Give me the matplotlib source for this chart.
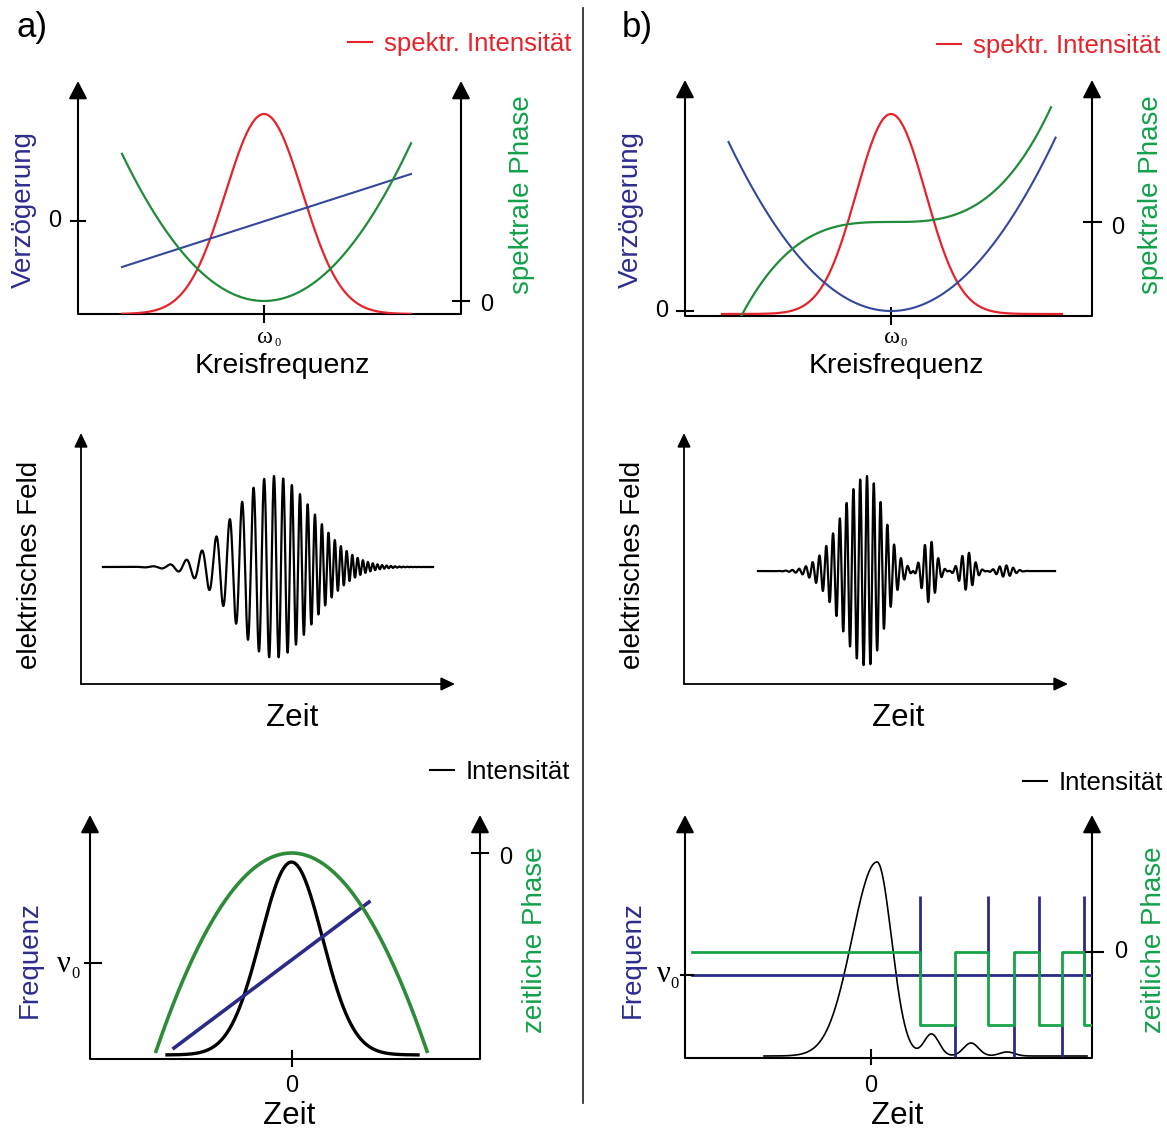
import numpy as np
import matplotlib
matplotlib.use("Agg")
import matplotlib.pyplot as plt
from matplotlib.lines import Line2D

W, H = 1167, 1134
plt.rcParams["font.family"] = ["Liberation Sans", "DejaVu Sans"]
SERIF = ["Liberation Serif", "DejaVu Serif"]

RED = "#E4242B"
GREEN = "#1F8B3B"
BLUE = "#34479B"
NAVY = "#2A2A88"
LABEL_BLUE = "#2E2C8E"
LABEL_GREEN = "#12A14B"
STEP_GREEN = "#17A34A"
BOT_GREEN = "#2E8B3A"

# ---------------- a) quadratic spectral phase ----------------
a_omega = [-1.42, 1.47]              # plotted range of the frequency offset
a_spec_sigma = 0.385                 # width of the spectral intensity
a_delay = [-0.46, 0.47]              # group delay at both ends (linear)
a_phase_poly = [0.73, 0.0, 0.0]      # spectral phase coefficients

a_field_t = [-17.1, 15.9]            # electric field, time range
a_field_sigma = 3.9
a_field_freq_poly = [0.003, 0.075, 1.05]   # instantaneous frequency vs. time

a_int_t = [-12.45, 12.65]            # temporal intensity
a_int_sigma = 3.1
a_freq_t = [-11.75, 7.75]            # instantaneous frequency (linear chirp)
a_freq = [-0.85, 0.61]
a_tphase_t = [-13.55, 13.55]         # temporal phase (parabola)
a_tphase_curv = -0.0108

# ---------------- b) cubic spectral phase ----------------
b_omega = [-1.69, 1.71]
b_spec_sigma = 0.346
b_delay_w = [-1.625, 1.646]
b_delay_curv = 0.64
b_phase_w = [-1.5, 1.6]
b_phase_cubic = 0.28

b_field_t = [-10.9, 18.8]
b_carrier = 1.47
b_sub_centres = [0.0, 6.2, 10.0, 13.8]
b_sub_amps = [1.0, -0.33, 0.2, -0.06]
b_sub_sig_left = [2.5, 0.7, 0.7, 0.8]
b_sub_sig_right = [1.7, 0.7, 0.7, 0.8]

b_int_t = [-10.7, 21.6]
b_int_centres = [0.6, 6.05, 10.0, 13.6]
b_int_peaks = [1.0, 0.113, 0.067, 0.021]
b_int_sig_left = [2.5, 0.75, 0.75, 0.75]
b_int_sig_right = [1.45, 0.75, 0.75, 0.75]

b_line_t = [-17.9, 21.95]            # frequency / phase drawn over this range
b_jumps = [4.85, 8.42, 11.69, 14.25, 16.76, 19.13, 21.28]
b_phase_levels = [0.0, -0.73]
b_spikes = [0.79, -0.82]


def split_gauss(t, c, sl, sr):
    s = np.where(t < c, sl, sr)
    return np.exp(-(t - c) ** 2 / (2 * s ** 2))


fig = plt.figure(figsize=(W / 100, H / 100), dpi=100)


def panel(box, xlim, ylim):
    x0, x1, yb, yt = box
    ax = fig.add_axes([x0 / W, 1 - yb / H, (x1 - x0) / W, (yb - yt) / H])
    ax.set_xlim(*xlim)
    ax.set_ylim(*ylim)
    ax.axis("off")
    ax.patch.set_visible(False)
    return ax


def frame(ax, box, right=False, arrow_x=False, big=True, lw=1.5):
    if big:
        style = "-|>,head_length=0.54,head_width=0.28"
    else:
        style = "-|>,head_length=0.42,head_width=0.2"
    kw = dict(xycoords="axes fraction", textcoords="axes fraction",
              arrowprops=dict(arrowstyle=style, mutation_scale=20, lw=lw,
                              color="k", shrinkA=0, shrinkB=0))
    ax.annotate("", xy=(0, 1), xytext=(0, 0), **kw)
    if right:
        ax.annotate("", xy=(1, 1), xytext=(1, 0), **kw)
    if arrow_x:
        ax.annotate("", xy=(1, 0), xytext=(0, 0), **kw)
    else:
        ax.plot([0, 1], [0, 0], color="k", lw=lw, transform=ax.transAxes,
                clip_on=False, solid_capstyle="butt")


def xtick(ax, box, x, below=8, above=8, lw=1.5):
    hpx = box[2] - box[3]
    ax.plot([x, x], [-below / hpx, above / hpx], color="k", lw=lw,
            transform=ax.get_xaxis_transform(), clip_on=False)


def ytick(ax, box, y, side, left=7, right=7, lw=1.5):
    wpx = box[1] - box[0]
    ax.plot([side - left / wpx, side + right / wpx], [y, y], color="k", lw=lw,
            transform=ax.get_yaxis_transform(), clip_on=False)


def text(x, y, s, size=20, color="k", **kw):
    kw.setdefault("ha", "center")
    kw.setdefault("va", "center")
    fig.text(x / W, 1 - y / H, s, fontsize=size, color=color, **kw)


def greek(x, y, sym, sub_dx, sub_dy, size, sub_size):
    text(x, y, sym, size=size, family=SERIF)
    text(x + sub_dx, y + sub_dy, "0", size=sub_size, family=SERIF)


def legend(ax, x, y, label, color):
    ax.legend(handles=[Line2D([], [], color=color, lw=1.5)], labels=[label],
              loc="center right", bbox_to_anchor=(x / W, 1 - y / H),
              bbox_transform=fig.transFigure, frameon=False, fontsize=18.5,
              labelcolor=color, handlelength=0.95, handletextpad=0.45,
              borderpad=0, borderaxespad=0)


# ======================= a) top: spectral domain =======================
box = (78, 461, 314, 81)
xl = (-1.86, 1.97)
ax_i = panel(box, xl, (0, 1.165))
ax_d = panel(box, xl, (-0.93, 1.40))
ax_p = panel(box, xl, (-0.13, 2.20))
frame(ax_i, box, right=True)
w = np.linspace(a_omega[0], a_omega[1], 500)
ax_d.plot(a_omega, a_delay, color=BLUE, lw=1.5)
ax_p.plot(w, np.polyval(a_phase_poly, w), color=GREEN, lw=1.6)
ax_i.plot(w, np.exp(-w ** 2 / (2 * a_spec_sigma ** 2)), color=RED, lw=1.6)
xtick(ax_i, box, 0)
ytick(ax_d, box, 0, 0)
ytick(ax_p, box, 0, 1, 8, 8)
legend(ax_i, 571, 44, "spektr. Intensität", RED)
text(55, 221, "0", size=17)
text(487, 305, "0", size=17)
greek(265.5, 338, "ω", 12.5, 5.5, 17.5, 9)
text(282, 366, "Kreisfrequenz", size=20.5)
text(24, 209, "Verzögerung", color=LABEL_BLUE, rotation=90)
text(522, 195, "spektrale Phase", color=LABEL_GREEN, rotation=90)
text(16, 27, "a)", size=25, ha="left")

# ======================= b) top: spectral domain =======================
box = (685, 1092, 316, 80)
xl = (-2.06, 2.01)
bx_i = panel(box, xl, (-0.01, 1.17))
bx_d = panel(box, xl, (-0.05, 2.31))
bx_p = panel(box, xl, (-0.94, 1.42))
frame(bx_i, box, right=True)
w = np.linspace(b_omega[0], b_omega[1], 500)
wd = np.linspace(b_delay_w[0], b_delay_w[1], 500)
wp = np.linspace(b_phase_w[0], b_phase_w[1], 500)
bx_d.plot(wd, b_delay_curv * wd ** 2, color=BLUE, lw=1.5)
bx_p.plot(wp, b_phase_cubic * wp ** 3, color=GREEN, lw=1.6)
bx_i.plot(w, np.exp(-w ** 2 / (2 * b_spec_sigma ** 2)), color=RED, lw=1.6)
xtick(bx_i, box, 0)
ytick(bx_d, box, 0, 0, 8, 8)
ytick(bx_p, box, 0, 1, 8, 9)
legend(bx_i, 1160, 46, "spektr. Intensität", RED)
text(662, 311, "0", size=17)
text(1118, 228, "0", size=17)
greek(892, 338, "ω", 12, 5.5, 17.5, 9)
text(896, 366, "Kreisfrequenz", size=20.5)
text(631, 209, "Verzögerung", color=LABEL_BLUE, rotation=90)
text(1151, 195, "spektrale Phase", color=LABEL_GREEN, rotation=90)
text(622, 27, "b)", size=25, ha="left")

# ======================= a) middle: electric field =======================
box = (81, 455, 684, 433)
ax_e = panel(box, (-19.3, 18.1), (-1.286, 1.473))
frame(ax_e, box, arrow_x=True, big=False, lw=1.3)
t = np.linspace(a_field_t[0], a_field_t[1], 6000)
phase = 2 * np.pi * np.polyval(np.polyint(a_field_freq_poly), t)
ax_e.plot(t, np.exp(-t ** 2 / (2 * a_field_sigma ** 2)) * np.cos(phase),
          color="k", lw=1.6)
text(30, 565, "elektrisches Feld", rotation=90)
text(292, 718, "Zeit", size=22.5)

# ======================= b) middle: electric field =======================
box = (684, 1068, 684, 433)
bx_e = panel(box, (-18.3, 20.1), (-1.189, 1.453))
frame(bx_e, box, arrow_x=True, big=False, lw=1.3)
t = np.linspace(b_field_t[0], b_field_t[1], 6000)
env = sum(a * split_gauss(t, c, sl, sr) for c, a, sl, sr in
          zip(b_sub_centres, b_sub_amps, b_sub_sig_left, b_sub_sig_right))
bx_e.plot(t, env * np.cos(2 * np.pi * b_carrier * t), color="k", lw=1.6)
text(633, 565, "elektrisches Feld", rotation=90)
text(898, 718, "Zeit", size=22.5)

# ======================= a) bottom: time domain =======================
box = (90, 480, 1059, 815)
xl = (-20.15, 18.85)
ax_ti = panel(box, xl, (-0.021, 1.244))
ax_tf = panel(box, xl, (-0.96, 1.48))
ax_tp = panel(box, xl, (-2.06, 0.38))
frame(ax_ti, box, right=True)
t = np.linspace(a_tphase_t[0], a_tphase_t[1], 500)
ax_tp.plot(t, a_tphase_curv * t ** 2, color=BOT_GREEN, lw=2.6)
ti = np.linspace(a_int_t[0], a_int_t[1], 500)
ax_ti.plot(ti, np.exp(-ti ** 2 / (2 * a_int_sigma ** 2)), color="k", lw=2.4)
ax_tf.plot(a_freq_t, a_freq, color=NAVY, lw=2.6)
xtick(ax_ti, box, 0, 7, 8)
ytick(ax_tf, box, 0, 0, 5, 11)
ytick(ax_tp, box, 0, 1, 8, 8)
legend(ax_ti, 570, 772, "Intensität", "k")
text(506, 858, "0", size=17)
text(292, 1086, "0", size=17)
greek(64, 965, "ν", 11, 9, 22, 12)
text(289, 1116, "Zeit", size=22.5)
text(30, 960, "Frequenz", color=LABEL_BLUE, rotation=90)
text(535, 940, "zeitliche Phase", color=LABEL_GREEN, rotation=90)

# ======================= b) bottom: time domain =======================
box = (685, 1092, 1058, 815)
xl = (-18.6, 22.1)
bx_ti = panel(box, xl, (-0.0103, 1.242))
bx_tf = panel(box, xl, (-0.83, 1.60))
bx_tp = panel(box, xl, (-1.06, 1.37))
frame(bx_ti, box, right=True)
ti = np.linspace(b_int_t[0], b_int_t[1], 2000)
inten = sum(p * split_gauss(ti, c, sl, sr) for c, p, sl, sr in
            zip(b_int_centres, b_int_peaks, b_int_sig_left, b_int_sig_right))
bx_ti.plot(ti, inten, color="k", lw=1.2)
spike = [b_spikes[i % 2] for i in range(len(b_jumps))]
bx_tf.vlines(b_jumps, 0, spike, color=NAVY, lw=2.0)
levels = [b_phase_levels[i % 2] for i in range(len(b_jumps) + 1)]
bx_tp.step([b_line_t[0]] + b_jumps + [b_line_t[1]], levels + [levels[-1]],
           where="post", color=STEP_GREEN, lw=2.0)
bx_tf.plot(b_line_t, [0, 0], color=NAVY, lw=2.0)
xtick(bx_ti, box, 0, 6, 8)
ytick(bx_tf, box, 0, 0, 4, 8)
ytick(bx_tp, box, 0, 1, 6, 11)
legend(bx_ti, 1163, 783, "Intensität", "k")
text(1121, 952, "0", size=17)
text(871, 1086, "0", size=17)
greek(663.5, 975, "ν", 11, 9, 22, 12)
text(897, 1116, "Zeit", size=22.5)
text(633, 960, "Frequenz", color=LABEL_BLUE, rotation=90)
text(1154, 940, "zeitliche Phase", color=LABEL_GREEN, rotation=90)

# divider between a) and b)
fig.add_artist(Line2D([583 / W, 583 / W], [1 - 8 / H, 1 - 1103 / H],
                      color="#333333", lw=1.3))

fig.savefig("out.png", dpi=100)
